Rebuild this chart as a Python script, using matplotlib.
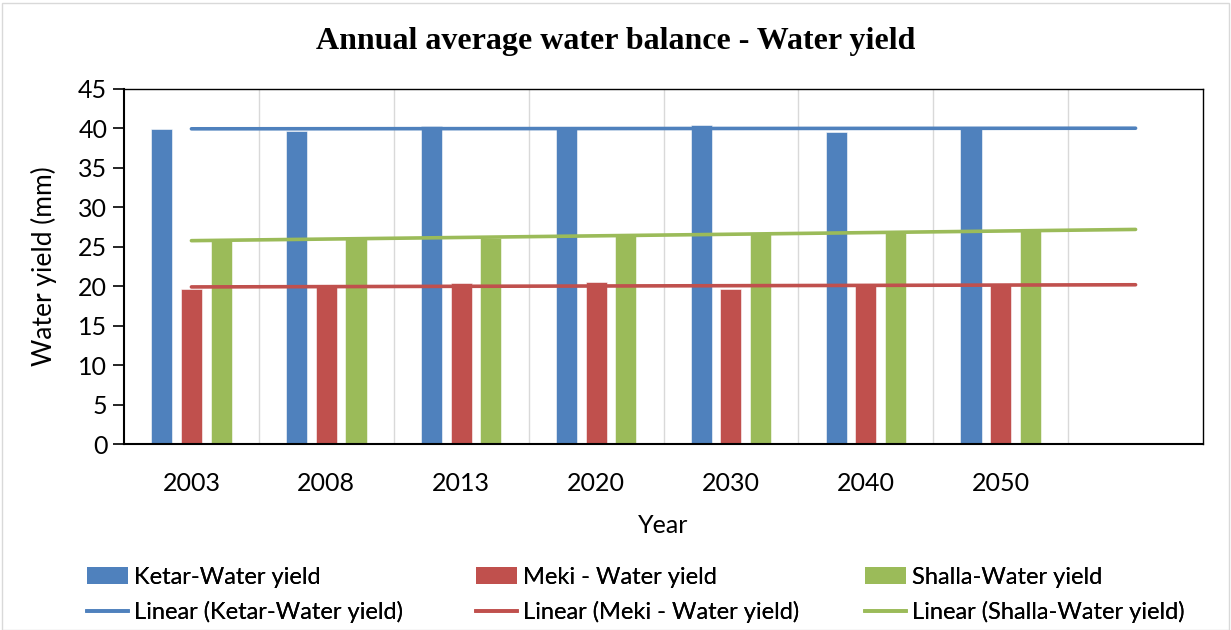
import matplotlib.pyplot as plt
import matplotlib.patches as mpatches
from matplotlib.lines import Line2D
import numpy as np

# values (mm)
years = ["2003", "2008", "2013", "2020", "2030", "2040", "2050"]
ketar = [39.9, 39.7, 40.3, 39.9, 40.5, 39.6, 40.0]
meki = [19.6, 19.9, 20.4, 20.5, 19.6, 20.1, 20.1]
shalla = [25.8, 26.0, 26.1, 26.4, 26.6, 26.8, 27.0]

series_names = ["Ketar-Water yield", "Meki - Water yield", "Shalla-Water yield"]
colors = ["#4F81BD", "#C0504D", "#9BBB59"]

plt.rcParams['font.family'] = ['Lato', 'DejaVu Sans']

fig = plt.figure(figsize=(12.31, 6.30), dpi=100)
ax = fig.add_axes([124 / 1231, 1 - 444 / 630, (1203 - 124) / 1231, (444 - 89) / 630])

# light outer chart border
fig.patches.append(mpatches.Rectangle((0.002, 0.0), 0.996, 0.995, transform=fig.transFigure,
                                      fill=False, edgecolor='#d9d9d9', linewidth=1))

x = np.arange(1, len(years) + 1)
offsets = [-0.22, 0.0, 0.22]
width = 0.156
data = [ketar, meki, shalla]

for vals, off, col in zip(data, offsets, colors):
    ax.bar(x + off, vals, width=width, color=col, edgecolor='white', linewidth=0.4, zorder=2)

# linear trend lines, extended one period forward (Excel style)
xt = np.arange(1, len(years) + 2)
for vals, col in zip(data, colors):
    k, b = np.polyfit(x, vals, 1)
    ax.plot(xt, k * xt + b, color=col, linewidth=2.6, zorder=3, solid_capstyle='round')

ax.set_xlim(0.5, 8.5)
ax.set_ylim(0, 45)
ax.set_yticks(range(0, 46, 5))
ax.set_xticks(x)
ax.set_xticklabels(years)

# vertical gridlines between categories
for g in np.arange(1.5, 8.5, 1.0):
    ax.axvline(g, color='#d9d9d9', linewidth=1, zorder=1)

for s in ax.spines.values():
    s.set_color('black')
    s.set_linewidth(1.0)
ax.spines['left'].set_linewidth(1.5)
ax.spines['bottom'].set_linewidth(1.5)

ax.tick_params(axis='y', direction='out', length=8, width=1.2, labelsize=18, pad=4)
ax.tick_params(axis='x', length=0, labelsize=18, pad=20)

ax.set_xlabel("Year", fontsize=18, labelpad=14)
ax.set_ylabel("Water yield (mm)", fontsize=19, labelpad=15)

fig.text(0.5, 1 - 42 / 630, "Annual average water balance - Water yield",
         ha='center', va='center', fontsize=23, fontweight='bold',
         family=['Liberation Serif', 'DejaVu Serif'])

# legend: three columns, bar on top, trend line below
col_x = [87 / 1231, 476 / 1231, 865 / 1231]
for name, col, cx in zip(series_names, colors, col_x):
    handles = [mpatches.Patch(facecolor=col, edgecolor='none'),
               Line2D([0], [0], color=col, linewidth=2.6)]
    labels = [name, "Linear (" + name + ")"]
    leg = fig.legend(handles, labels, loc='upper left', bbox_to_anchor=(cx, 1 - 567 / 630),
                     frameon=False, fontsize=17, handlelength=1.74, handletextpad=0.25,
                     labelspacing=0.56, borderaxespad=0, borderpad=0)
    fig.add_artist(leg)

fig.savefig("out.png", dpi=100)
